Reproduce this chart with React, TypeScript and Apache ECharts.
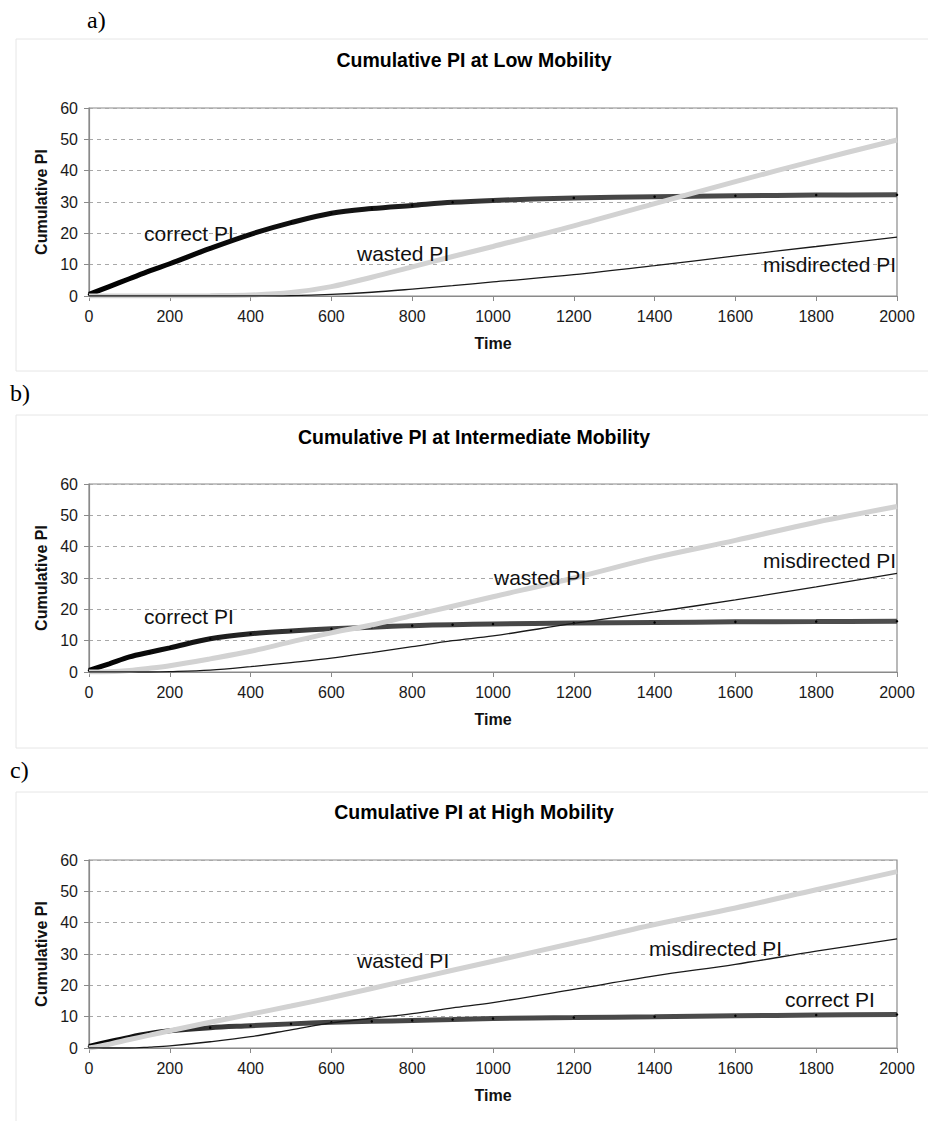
import React, { useEffect, useRef } from "react";
import * as echarts from "echarts";

// Shared time samples (x values)
const TIME = [0, 50, 100, 150, 200, 300, 400, 500, 600, 700, 800, 900, 1000, 1200, 1400, 1600, 1800, 2000];

// a) Low mobility
const LOW_CORRECT = [0.5, 3, 5.5, 8, 10.3, 15.2, 19.7, 23.4, 26.4, 27.9, 28.9, 29.9, 30.5, 31.3, 31.7, 32, 32.2, 32.3];
const LOW_WASTED = [0, 0, 0, 0, 0, 0.1, 0.3, 1.1, 3, 6, 9.3, 12.6, 15.8, 22.4, 29.5, 36.5, 43.3, 49.8];
const LOW_MISDIRECTED = [0, 0, 0, 0, 0, 0, 0, 0.1, 0.5, 1.2, 2.2, 3.3, 4.5, 6.8, 9.7, 12.8, 15.8, 18.8];

// b) Intermediate mobility
const MID_CORRECT = [0.5, 2.6, 4.8, 6.3, 7.7, 10.6, 12.2, 13.1, 13.8, 14.3, 14.8, 15.1, 15.3, 15.6, 15.8, 16, 16.1, 16.2];
const MID_WASTED = [0, 0.1, 0.5, 1.2, 2, 4.2, 6.6, 9.6, 12.5, 15, 18, 21, 24, 30, 36.5, 42, 47.8, 52.8];
const MID_MISDIRECTED = [0, 0, 0, 0, 0.1, 0.6, 1.7, 3, 4.4, 6.2, 8.1, 10, 11.5, 15.5, 19.2, 23, 27.2, 31.5];

// c) High mobility
const HIGH_CORRECT = [0.5, 2, 3.4, 4.6, 5.5, 6.5, 7.1, 7.7, 8.2, 8.5, 8.8, 9.1, 9.4, 9.7, 10, 10.3, 10.5, 10.7];
const HIGH_WASTED = [0, 1.2, 2.7, 4.1, 5.5, 8.2, 10.8, 13.4, 16.1, 19, 21.9, 24.8, 27.7, 33.5, 39.4, 44.7, 50.5, 56.3];
const HIGH_MISDIRECTED = [0, 0, 0, 0.3, 0.7, 2, 3.6, 5.8, 8, 9.5, 11, 12.8, 14.5, 18.7, 23, 26.7, 30.9, 34.8];

const PANEL_LETTERS = ["a)", "b)", "c)"];
const TITLES = [
  "Cumulative PI at Low Mobility",
  "Cumulative PI at Intermediate Mobility",
  "Cumulative PI at High Mobility",
];
const X_NAME = "Time";
const Y_NAME = "Cumulative PI";
const LBL_CORRECT = "correct PI";
const LBL_WASTED = "wasted PI";
const LBL_MISDIRECTED = "misdirected PI";

const SANS = "'Liberation Sans', Arial, sans-serif";
const SERIF = "'Liberation Serif', 'Times New Roman', serif";

export default function App() {
  const ref = useRef<HTMLDivElement>(null);

  useEffect(() => {
    if (!ref.current) return;
    const chart = echarts.init(ref.current, undefined, { renderer: "svg" });

    const panels = [
      { top: 108, letterX: 87, letterY: 20, titleY: 60, boxY: 39, boxH: 332, grad: [0.35, 0.55],
        c: LOW_CORRECT, w: LOW_WASTED, m: LOW_MISDIRECTED,
        labels: [
          { t: LBL_CORRECT, x: 144, y: 233 },
          { t: LBL_WASTED, x: 357, y: 253 },
          { t: LBL_MISDIRECTED, x: 763, y: 264 },
        ] },
      { top: 484, letterX: 10, letterY: 393, titleY: 437, boxY: 415, boxH: 333, grad: [0.14, 0.3],
        c: MID_CORRECT, w: MID_WASTED, m: MID_MISDIRECTED,
        labels: [
          { t: LBL_CORRECT, x: 144, y: 616 },
          { t: LBL_WASTED, x: 494, y: 577 },
          { t: LBL_MISDIRECTED, x: 763, y: 560 },
        ] },
      { top: 860, letterX: 10, letterY: 770, titleY: 812, boxY: 792, boxH: 340, grad: [0.06, 0.2],
        c: HIGH_CORRECT, w: HIGH_WASTED, m: HIGH_MISDIRECTED,
        labels: [
          { t: LBL_WASTED, x: 357, y: 960 },
          { t: LBL_MISDIRECTED, x: 649, y: 948 },
          { t: LBL_CORRECT, x: 785, y: 999 },
        ] },
    ];

    const grids: any[] = [];
    const xAxes: any[] = [];
    const yAxes: any[] = [];
    const series: any[] = [];
    const graphics: any[] = [];

    panels.forEach((p, i) => {
      grids.push({
        left: 89, top: p.top, width: 808, height: 188,
        show: true, borderColor: "#8a8a8a", borderWidth: 1.2, backgroundColor: "#fff",
      });
      xAxes.push({
        type: "value", gridIndex: i, min: 0, max: 2000, interval: 200,
        name: X_NAME, nameLocation: "middle", nameGap: 39,
        nameTextStyle: { fontFamily: SANS, fontSize: 16, fontWeight: "bold", color: "#111" },
        axisLine: { show: true, onZero: false, lineStyle: { color: "#8a8a8a", width: 1.2 } },
        axisTick: { show: true, inside: false, length: 5, lineStyle: { color: "#8a8a8a" } },
        axisLabel: {
          margin: 12, fontFamily: SANS, fontSize: 16, color: "#1a1a1a",
          formatter: (v: number) => String(v),
        },
        splitLine: { show: false },
      });
      yAxes.push({
        type: "value", gridIndex: i, min: 0, max: 60, interval: 10,
        name: Y_NAME, nameLocation: "middle", nameGap: 36, nameRotate: 90,
        nameTextStyle: { fontFamily: SANS, fontSize: 16, fontWeight: "bold", color: "#111" },
        axisLine: { show: true, lineStyle: { color: "#8a8a8a", width: 1.2 } },
        axisTick: { show: true, inside: false, length: 5, lineStyle: { color: "#8a8a8a" } },
        axisLabel: {
          margin: 11, fontFamily: SANS, fontSize: 16, color: "#1a1a1a",
          formatter: (v: number) => String(v),
        },
        splitLine: { show: true, lineStyle: { color: "#a8a8a8", type: [4, 4], width: 1 } },
      });

      series.push({
        type: "line", xAxisIndex: i, yAxisIndex: i, name: LBL_CORRECT,
        data: TIME.map((t, k) => [t, p.c[k]]),
        smooth: 0.35,
        showSymbol: true, symbol: "circle", symbolSize: 2.5,
        itemStyle: { color: "#000" },
        lineStyle: {
          width: 5,
          color: new echarts.graphic.LinearGradient(0, 0, 1, 0, [
            { offset: 0, color: "#000" },
            { offset: p.grad[0], color: "#151515" },
            { offset: p.grad[1], color: "#444" },
            { offset: 1, color: "#4e4e4e" },
          ]),
        },
        z: 2,
      });
      series.push({
        type: "line", xAxisIndex: i, yAxisIndex: i, name: LBL_WASTED,
        data: TIME.map((t, k) => [t, p.w[k]]),
        smooth: 0.35, showSymbol: false,
        lineStyle: { width: 5, color: "#d2d2d2" },
        z: 3,
      });
      series.push({
        type: "line", xAxisIndex: i, yAxisIndex: i, name: LBL_MISDIRECTED,
        data: TIME.map((t, k) => [t, p.m[k]]),
        smooth: 0.35, showSymbol: false,
        lineStyle: { width: 1.3, color: "#1a1a1a" },
        z: 4,
      });

      graphics.push({
        type: "rect", silent: true, z: -10,
        shape: { x: 16, y: p.boxY, width: 930, height: p.boxH },
        style: { fill: "#fff", stroke: "#e6e6e6", lineWidth: 1 },
      });
      graphics.push({
        type: "text", x: p.letterX, y: p.letterY,
        style: { text: PANEL_LETTERS[i], fontFamily: SERIF, fontSize: 24, fill: "#000", verticalAlign: "middle", align: "left" },
      });
      graphics.push({
        type: "text", x: 474, y: p.titleY,
        style: { text: TITLES[i], fontFamily: SANS, fontSize: 19.5, fontWeight: "bold", fill: "#000", verticalAlign: "middle", align: "center" },
      });
      p.labels.forEach((l) => {
        graphics.push({
          type: "text", x: l.x, y: l.y, z: 100,
          style: { text: l.t, fontFamily: SANS, fontSize: 21, fill: "#111", verticalAlign: "middle", align: "left" },
        });
      });
    });

    chart.setOption({
      animation: false,
      backgroundColor: "#fff",
      grid: grids,
      xAxis: xAxes,
      yAxis: yAxes,
      series,
      graphic: graphics,
    });

    return () => chart.dispose();
  }, []);

  return (
    <div
      ref={ref}
      style={{ position: "absolute", left: 0, top: 0, width: 928, height: 1121 }}
    />
  );
}
